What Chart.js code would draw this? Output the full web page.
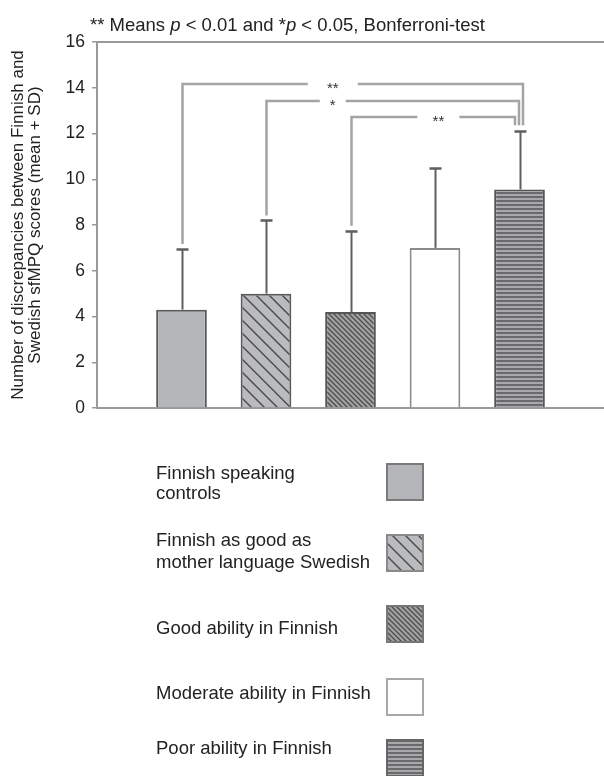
<!DOCTYPE html>
<html>
<head>
<meta charset="utf-8">
<script src="https://cdn.jsdelivr.net/npm/chart.js@4.4.0/dist/chart.umd.min.js"></script>
<style>
  html, body { margin: 0; padding: 0; background: #fff; }
</style>
</head>
<body>
<canvas id="chart" width="604" height="776"></canvas>
<script>
// groups (legend text, one entry per bar)
var groups = [
  ['Finnish speaking', 'controls'],
  ['Finnish as good as', 'mother language Swedish'],
  ['Good ability in Finnish'],
  ['Moderate ability in Finnish'],
  ['Poor ability in Finnish']
];
// mean and SD of the discrepancies
var means = [4.3, 5.0, 4.2, 7.0, 9.55];
var sds = [2.65, 3.2, 3.55, 3.5, 2.55];
var yTicks = [0, 2, 4, 6, 8, 10, 12, 14, 16];
// significance brackets (group index from / to)
var brackets = [
  { from: 0, to: 4, level: 14.15, label: '**' },
  { from: 1, to: 4, level: 13.4, label: '*' },
  { from: 2, to: 4, level: 12.7, label: '**' }
];

var FONT = '"Liberation Sans", Arial, Helvetica, sans-serif';
Chart.defaults.font.family = FONT;
Chart.defaults.color = '#222';

var ctx = document.getElementById('chart').getContext('2d');

function tile(size, drawFn) {
  var c = document.createElement('canvas');
  c.width = size; c.height = size;
  var g = c.getContext('2d');
  drawFn(g, size);
  return ctx.createPattern(c, 'repeat');
}
function diag(bg, fg, lw) {
  return function (g, s) {
    g.fillStyle = bg; g.fillRect(0, 0, s, s);
    g.strokeStyle = fg; g.lineWidth = lw;
    g.beginPath();
    g.moveTo(-1, -1); g.lineTo(s + 1, s + 1);
    g.moveTo(-1, s - 1); g.lineTo(1, s + 1);
    g.moveTo(s - 1, -1); g.lineTo(s + 1, 1);
    g.stroke();
  };
}
var fills = [
  '#b5b6ba',
  tile(13, diag('#babbbf', '#4a4a4a', 1.4)),
  tile(5, diag('#a3a3a6', '#4d4d4d', 1.3)),
  '#ffffff',
  tile(4, function (g, s) {
    g.fillStyle = '#a9a9ab'; g.fillRect(0, 0, s, s);
    g.fillStyle = '#6a6a6c'; g.fillRect(0, 0, s, 2);
  })
];
var borders = ['#5a5a5a', '#5a5a5a', '#555555', '#8a8a8a', '#555555'];
var legendBorders = ['#7a7a7a', '#8a8a8a', '#777777', '#a8a8a8', '#666666'];

var labels = [''].concat(groups.map(function (g) { return g.join(' '); }), ['']);
var values = [null].concat(means, [null]);

var extras = {
  id: 'extras',
  afterDatasetsDraw: function (chart) {
    var c = chart.ctx, xs = chart.scales.x, ys = chart.scales.y, a = chart.chartArea;
    c.save();
    // top frame line
    c.strokeStyle = '#9a9a9a'; c.lineWidth = 2;
    c.beginPath(); c.moveTo(a.left, a.top); c.lineTo(a.right, a.top); c.stroke();

    // error bars (mean + SD)
    c.strokeStyle = '#5e5e5e';
    means.forEach(function (m, i) {
      var x = Math.round(xs.getPixelForValue(i + 1)) + 0.5;
      var y0 = ys.getPixelForValue(m);
      var y1 = Math.round(ys.getPixelForValue(m + sds[i])) + 0.5;
      c.lineWidth = 2;
      c.beginPath(); c.moveTo(x, y0); c.lineTo(x, y1); c.stroke();
      c.lineWidth = 2.5;
      c.beginPath(); c.moveTo(x - 6, y1); c.lineTo(x + 6, y1); c.stroke();
    });

    // significance brackets
    var shifts = [3, -1, -5], labelAt = [2.79, 2.79, 4.04], gaps = [50, 26, 42];
    brackets.forEach(function (b, k) {
      var xl = Math.round(xs.getPixelForValue(b.from + 1)) + 0.5;
      var xr = Math.round(xs.getPixelForValue(b.to + 1)) + shifts[k];
      var y = Math.round(ys.getPixelForValue(b.level));
      var yl = ys.getPixelForValue(means[b.from] + sds[b.from]) - 5;
      var yr = ys.getPixelForValue(means[b.to] + sds[b.to]) - 6;
      var xm = xs.getPixelForValue(labelAt[k]);
      c.strokeStyle = '#a4a4a4'; c.lineWidth = 2.5;
      c.beginPath();
      c.moveTo(xl, yl); c.lineTo(xl, y); c.lineTo(xm - gaps[k] / 2, y);
      c.moveTo(xm + gaps[k] / 2, y); c.lineTo(xr, y); c.lineTo(xr, yr);
      c.stroke();
      c.fillStyle = '#333'; c.font = '15px ' + FONT;
      c.textAlign = 'center'; c.textBaseline = 'alphabetic';
      c.fillText(b.label, xm, y + 9);
    });
    c.restore();
  },
  afterDraw: function (chart) {
    var c = chart.ctx;
    c.save();
    // title with italic p
    var parts = [['** Means ', 0], ['p', 1], [' < 0.01 and *', 0], ['p', 1], [' < 0.05, Bonferroni-test', 0]];
    var x = 90;
    c.fillStyle = '#222'; c.textBaseline = 'alphabetic'; c.textAlign = 'left';
    parts.forEach(function (p) {
      c.font = (p[1] ? 'italic ' : '') + '18.5px ' + FONT;
      c.fillText(p[0], x, 31);
      x += c.measureText(p[0]).width;
    });

    // legend
    var rows = [
      { box: 463, base: [479, 499] },
      { box: 534, base: [546, 568] },
      { box: 605, base: [634] },
      { box: 678, base: [699] },
      { box: 739, base: [754] }
    ];
    c.font = '18.5px ' + FONT;
    groups.forEach(function (g, i) {
      g.forEach(function (line, j) { c.fillText(line, 156, rows[i].base[j]); });
      c.fillStyle = fills[i];
      c.fillRect(386, rows[i].box, 38, 38);
      c.strokeStyle = legendBorders[i]; c.lineWidth = 2;
      c.strokeRect(387, rows[i].box + 1, 36, 36);
      c.fillStyle = '#222';
    });
    c.restore();
  }
};

new Chart(ctx, {
  type: 'bar',
  data: {
    labels: labels,
    datasets: [{
      data: values,
      backgroundColor: [null].concat(fills, [null]),
      borderColor: [null].concat(borders, [null]),
      borderWidth: 2,
      barPercentage: 0.6,
      categoryPercentage: 1
    }]
  },
  options: {
    responsive: false,
    animation: false,
    layout: { padding: { top: 42, right: 0, bottom: 368, left: 0 } },
    plugins: { legend: { display: false }, tooltip: { enabled: false }, title: { display: false } },
    scales: {
      x: {
        offset: false,
        grid: { display: false, drawTicks: false },
        ticks: { display: false },
        border: { display: true, color: '#9a9a9a', width: 2 }
      },
      y: {
        min: 0, max: 16,
        afterBuildTicks: function (s) { s.ticks = yTicks.map(function (v) { return { value: v }; }); },
        afterFit: function (s) { s.width = 97; },
        ticks: { font: { size: 17.5 }, color: '#222', padding: 7 },
        grid: { drawOnChartArea: false, drawTicks: true, tickLength: 5, color: '#9a9a9a', lineWidth: 1.5 },
        border: { display: true, color: '#9a9a9a', width: 2 },
        title: {
          display: true,
          text: ['Number of discrepancies between Finnish and', 'Swedish sfMPQ scores (mean + SD)'],
          font: { size: 17, lineHeight: 1.0 }, color: '#222', padding: { top: 10, bottom: 0 }
        }
      }
    }
  },
  plugins: [extras]
});
</script>
</body>
</html>
